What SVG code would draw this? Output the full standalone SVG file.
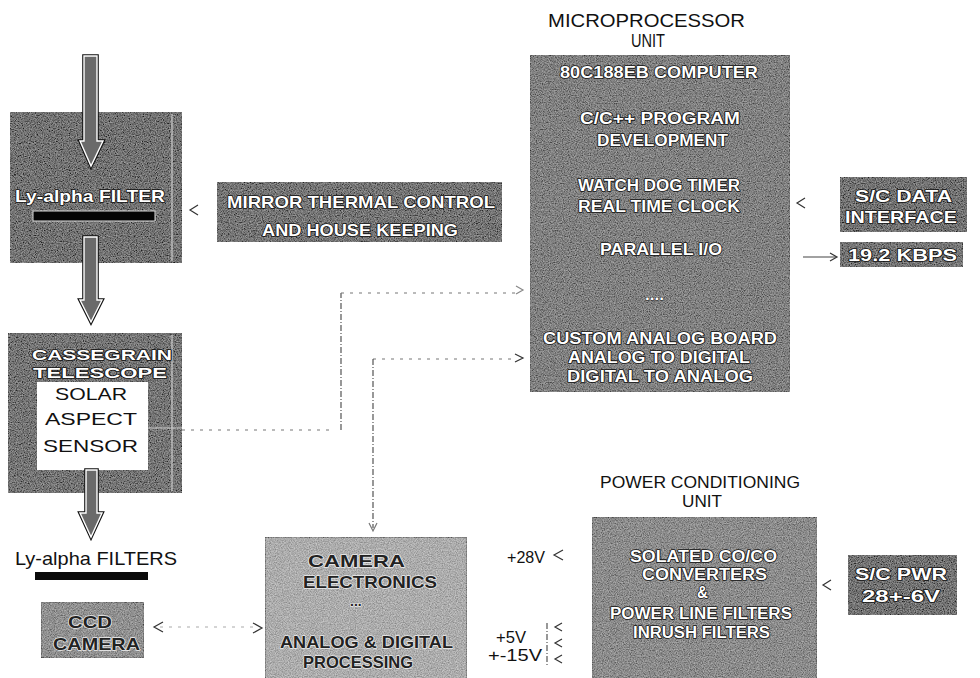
<svg xmlns="http://www.w3.org/2000/svg" width="980" height="678" viewBox="0 0 980 678">
<defs>
<filter id="grain" x="0" y="0" width="100%" height="100%">
<feTurbulence type="fractalNoise" baseFrequency="0.85" numOctaves="2" seed="7" result="t"/>
<feColorMatrix in="t" type="matrix" values="1.6 0 0 0 -0.35  1.6 0 0 0 -0.35  1.6 0 0 0 -0.35  0 0 0 0 0.35" result="g"/>
<feComposite in="g" in2="SourceAlpha" operator="in" result="gm"/>
<feMerge><feMergeNode in="SourceGraphic"/><feMergeNode in="gm"/></feMerge>
</filter>
<style>
.box{stroke:#222;stroke-width:1;filter:url(#grain)}
.emb{font-family:"Liberation Sans",Arial,sans-serif;font-weight:bold;font-size:17px;fill:#fff;stroke:#111;stroke-width:1.6;paint-order:stroke fill;stroke-linejoin:round}
.t16{font-size:16px}
.t15{font-size:15px}
.embd{font-family:"Liberation Sans",Arial,sans-serif;font-weight:bold;font-size:17px;fill:#222;stroke:#eee;stroke-width:1.4;paint-order:stroke fill;stroke-linejoin:round}
.lbl{font-family:"Liberation Sans",Arial,sans-serif;font-size:19px;fill:#111}
.l17{font-size:17px}
.con{fill:none;stroke:#444;stroke-width:1.1}
.dash{stroke-dasharray:6 2 1 2}
.dot{stroke-dasharray:3 6;stroke:#777}
.head{fill:none;stroke:#333;stroke-width:1.2;stroke-linejoin:miter}
.arrO{fill:none;stroke:#111;stroke-width:3.6;stroke-linejoin:miter}
.arrI{fill:#6a6a6a;stroke:#fff;stroke-width:1.4;stroke-linejoin:miter}
.edge{stroke:#ccc;stroke-width:1.2;fill:none}
</style>
</defs>
<rect width="980" height="678" fill="#fff"/>

<g id="filter-box">
<rect class="box" x="10" y="112" width="172" height="151" fill="#262626"/>
<path class="edge" d="M172,114 V261"/>
<text class="emb" x="15" y="202" textLength="150" lengthAdjust="spacingAndGlyphs">Ly-alpha FILTER</text>
<rect x="33" y="211" width="122" height="10" fill="#050505" stroke="#ddd" stroke-width="1"/>
</g>

<g id="cassegrain">
<rect class="box" x="8" y="333" width="174" height="160" fill="#333"/>
<path class="edge" d="M172,335 V491 M148,428 H182"/>
<text class="emb t15" x="32" y="360" textLength="140" lengthAdjust="spacingAndGlyphs">CASSEGRAIN</text>
<text class="emb t15" x="33" y="378" textLength="134" lengthAdjust="spacingAndGlyphs">TELESCOPE</text>
<rect x="37" y="382" width="111" height="88" fill="#fff"/>
<text class="lbl l17" x="55" y="400" textLength="72" lengthAdjust="spacingAndGlyphs">SOLAR</text>
<text class="lbl l17" x="45" y="425" textLength="92" lengthAdjust="spacingAndGlyphs">ASPECT</text>
<text class="lbl l17" x="43" y="452" textLength="95" lengthAdjust="spacingAndGlyphs">SENSOR</text>
</g>

<g id="mirror-thermal">
<rect class="box" x="217" y="182" width="285" height="60" fill="#363636"/>
<text class="emb" x="227" y="208" textLength="268" lengthAdjust="spacingAndGlyphs">MIRROR THERMAL CONTROL</text>
<text class="emb" x="262" y="236" textLength="196" lengthAdjust="spacingAndGlyphs">AND HOUSE KEEPING</text>
</g>

<g id="mpu">
<text class="lbl" x="548" y="27" textLength="197" lengthAdjust="spacingAndGlyphs">MICROPROCESSOR</text>
<text class="lbl" x="631" y="47" textLength="34" lengthAdjust="spacingAndGlyphs">UNIT</text>
<rect class="box" x="530" y="55" width="260" height="337" fill="#555"/>
<text class="emb" x="560" y="78" textLength="198" lengthAdjust="spacingAndGlyphs">80C188EB COMPUTER</text>
<text class="emb t16" x="580" y="124" textLength="160" lengthAdjust="spacingAndGlyphs">C/C++ PROGRAM</text>
<text class="emb t16" x="597" y="146" textLength="131" lengthAdjust="spacingAndGlyphs">DEVELOPMENT</text>
<text class="emb t16" x="578" y="191" textLength="162" lengthAdjust="spacingAndGlyphs">WATCH DOG TIMER</text>
<text class="emb t16" x="578" y="212" textLength="162" lengthAdjust="spacingAndGlyphs">REAL TIME CLOCK</text>
<text class="emb" x="600" y="255" textLength="122" lengthAdjust="spacingAndGlyphs">PARALLEL I/O</text>
<text class="emb" x="645" y="300" style="stroke-width:0.8">....</text>
<text class="emb t16" x="543" y="344" textLength="234" lengthAdjust="spacingAndGlyphs">CUSTOM ANALOG BOARD</text>
<text class="emb t16" x="568" y="363" textLength="182" lengthAdjust="spacingAndGlyphs">ANALOG TO DIGITAL</text>
<text class="emb t16" x="567" y="382" textLength="186" lengthAdjust="spacingAndGlyphs">DIGITAL TO ANALOG</text>
</g>

<g id="sc-data">
<rect class="box" x="840" y="177" width="127" height="55" fill="#2c2c2c"/>
<text class="emb" x="855" y="202" textLength="97" lengthAdjust="spacingAndGlyphs">S/C DATA</text>
<text class="emb" x="845" y="223" textLength="112" lengthAdjust="spacingAndGlyphs">INTERFACE</text>
</g>

<g id="kbps">
<rect class="box" x="840" y="242" width="123" height="25" fill="#303030"/>
<text class="emb" x="848" y="261" textLength="109" lengthAdjust="spacingAndGlyphs">19.2 KBPS</text>
</g>

<g id="ly-filters">
<text class="lbl" x="15" y="565" textLength="162" lengthAdjust="spacingAndGlyphs">Ly-alpha FILTERS</text>
<rect x="35" y="572" width="113" height="8" fill="#0a0a0a"/>
</g>

<g id="ccd-camera">
<rect class="box" x="41" y="602" width="103" height="56" fill="#787878"/>
<text class="embd" x="68" y="628" textLength="44" lengthAdjust="spacingAndGlyphs">CCD</text>
<text class="embd" x="53" y="650" textLength="87" lengthAdjust="spacingAndGlyphs">CAMERA</text>
</g>

<g id="camera-electronics">
<rect class="box" x="265" y="537" width="202" height="146" fill="#a8a8a8"/>
<text class="embd" x="308" y="567" textLength="97" lengthAdjust="spacingAndGlyphs">CAMERA</text>
<text class="embd" x="303" y="588" textLength="134" lengthAdjust="spacingAndGlyphs">ELECTRONICS</text>
<text class="embd" x="350" y="606" style="font-size:14px">...</text>
<text class="embd" x="280" y="648" textLength="173" lengthAdjust="spacingAndGlyphs">ANALOG &amp; DIGITAL</text>
<text class="embd" x="303" y="668" textLength="110" lengthAdjust="spacingAndGlyphs">PROCESSING</text>
</g>

<g id="voltages">
<text class="lbl l17" x="507" y="563" textLength="38" lengthAdjust="spacingAndGlyphs">+28V</text>
<text class="lbl" x="496" y="643" textLength="30" lengthAdjust="spacingAndGlyphs" style="font-size:16px">+5V</text>
<text class="lbl" x="488" y="661" textLength="54" lengthAdjust="spacingAndGlyphs" style="font-size:16px">+-15V</text>
</g>

<g id="pcu">
<text class="lbl l17" x="600" y="488" textLength="200" lengthAdjust="spacingAndGlyphs">POWER CONDITIONING</text>
<text class="lbl l17" x="682" y="507" textLength="40" lengthAdjust="spacingAndGlyphs">UNIT</text>
<rect class="box" x="592" y="517" width="225" height="166" fill="#707070"/>
<text class="emb t16" x="630" y="562" textLength="147" lengthAdjust="spacingAndGlyphs">SOLATED CO/CO</text>
<text class="emb t16" x="642" y="580" textLength="125" lengthAdjust="spacingAndGlyphs">CONVERTERS</text>
<text class="emb t16" x="697" y="598" textLength="11" lengthAdjust="spacingAndGlyphs">&amp;</text>
<text class="emb t16" x="610" y="619" textLength="182" lengthAdjust="spacingAndGlyphs">POWER LINE FILTERS</text>
<text class="emb t16" x="633" y="638" textLength="137" lengthAdjust="spacingAndGlyphs">INRUSH FILTERS</text>
</g>

<g id="sc-pwr">
<rect class="box" x="848" y="555" width="109" height="60" fill="#2a2a2a"/>
<text class="emb" x="855" y="580" textLength="92" lengthAdjust="spacingAndGlyphs">S/C PWR</text>
<text class="emb" x="862" y="602" textLength="78" lengthAdjust="spacingAndGlyphs">28+-6V</text>
</g>

<g id="connectors">
<polygon class="arrO" points="84,56 97,56 97,141 103,141 91,166 80,141 84,141"/>
<polygon class="arrI" points="84,56 97,56 97,141 103,141 91,166 80,141 84,141"/>
<polygon class="arrO" points="84,237 97,237 97,300 102,300 91,322 80,300 84,300"/>
<polygon class="arrI" points="84,237 97,237 97,300 102,300 91,322 80,300 84,300"/>
<polygon class="arrO" points="86,470 97,470 97,513 102,513 91,537 80,513 86,513"/>
<polygon class="arrI" points="86,470 97,470 97,513 102,513 91,537 80,513 86,513"/>
<path class="head" d="M198,205 L190,210 L198,215"/>
<path class="con dot" d="M182,430 H332"/>
<path class="con dash" d="M341,430 V293"/>
<path class="con dot" d="M341,293 H520"/>
<path class="head" d="M516,286 L523,290 L516,294" style="stroke:#888"/>
<path class="con dot" d="M373,359 H515"/>
<path class="head" d="M515,354 L523,358 L515,362"/>
<path class="con dash" d="M373,359 V528"/>
<path class="head" d="M369,523 L373,531 L377,523" style="stroke:#777"/>
<path class="head" d="M805,198 L797,203 L805,208"/>
<path class="con" d="M803,257 H836"/>
<path class="head" d="M830,253 L837,257 L830,261"/>
<path class="con dot" d="M160,627 H258" style="stroke:#aaa"/>
<path class="head" d="M163,622 L154,627 L163,632"/>
<path class="head" d="M253,623 L262,628 L253,633"/>
<path class="head" d="M563,550 L554,555 L563,560"/>
<path class="con dash" d="M547,623 V665"/>
<path class="head" d="M562,623 L555,627 L562,631"/>
<path class="head" d="M562,639 L555,643 L562,647"/>
<path class="head" d="M562,655 L555,659 L562,663"/>
<path class="head" d="M831,580 L823,585 L831,590"/>
</g>
</svg>
